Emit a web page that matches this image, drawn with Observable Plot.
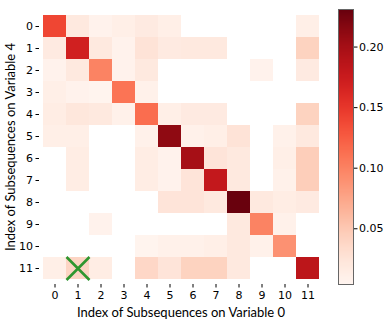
<!DOCTYPE html>
<html><head><meta charset="utf-8">
<script src="https://cdn.jsdelivr.net/npm/d3@7"></script>
<script src="https://cdn.jsdelivr.net/npm/@observablehq/plot@0.6"></script>
<style>
body{margin:0;background:#fff;}
#wrap{position:relative;width:384px;height:321px;overflow:hidden;}
#main{position:absolute;left:0;top:0;}
#cbar{position:absolute;left:330px;top:0;}
g[aria-label="x-axis label"] text, g[aria-label="y-axis label"] text{font-family:Lato,"Open Sans",sans-serif;font-size:13px;}
</style></head><body><div id="wrap"><div id="main"></div><div id="cbar"></div></div>
<script>
const colLabels = [0,1,2,3,4,5,6,7,8,9,10,11];
const rowLabels = [0,1,2,3,4,5,6,7,8,9,10,11];
// one array per row (Variable 4 index); null = empty (white) cell
const row0  = [0.140, 0.020, 0.008, 0.012, 0.018, 0.012, null, null, null, null, null, 0.012];
const row1  = [0.018, 0.170, 0.020, 0.008, 0.026, 0.018, 0.020, 0.020, null, null, null, 0.042];
const row2  = [0.008, 0.020, 0.100, 0.008, 0.020, null, null, null, null, 0.008, null, 0.018];
const row3  = [0.012, 0.008, 0.006, 0.110, 0.010, null, null, null, null, null, null, null];
const row4  = [0.015, 0.022, 0.020, 0.010, 0.115, 0.012, 0.018, 0.018, null, null, null, 0.042];
const row5  = [0.012, 0.012, null, null, 0.010, 0.212, 0.010, 0.012, 0.026, null, 0.010, 0.020];
const row6  = [null, 0.015, null, null, 0.015, 0.008, 0.200, 0.025, 0.020, null, 0.012, 0.046];
const row7  = [null, 0.015, null, null, 0.015, 0.008, 0.025, 0.180, 0.020, null, 0.010, 0.046];
const row8  = [null, null, null, null, null, 0.025, 0.025, 0.020, 0.230, 0.020, 0.015, 0.018];
const row9  = [null, null, 0.008, null, null, null, null, null, 0.020, 0.100, 0.010, null];
const row10 = [null, null, null, null, 0.006, 0.010, 0.010, 0.012, 0.020, 0.010, 0.090, null];
const row11 = [0.012, 0.040, 0.015, null, 0.038, 0.025, 0.042, 0.042, 0.020, null, null, 0.185];
const rows = [row0,row1,row2,row3,row4,row5,row6,row7,row8,row9,row10,row11];
const colorMin = 0.004, colorMax = 0.231;
const cbTicks = [0.05, 0.10, 0.15, 0.20];
const markerCol = [1], markerRow = [11];

const cells = [];
rows.forEach((r, i) => r.forEach((v, j) => { if (v != null) cells.push({row: rowLabels[i], col: colLabels[j], value: v}); }));
const markers = markerCol.map((c, i) => ({col: c, row: markerRow[i]}));

const main = Plot.plot({
  width: 330, height: 321,
  marginLeft: 39, marginRight: 8, marginTop: 9, marginBottom: 37,
  style: {fontFamily: "DejaVu Sans", fontSize: "11px", color: "#000", background: "#fff"},
  x: {type: "band", domain: colLabels, padding: 0, tickSize: 3.5, tickPadding: 3,
      label: "Index of Subsequences on Variable 0", labelAnchor: "center", labelArrow: "none", labelOffset: 32},
  y: {type: "band", domain: rowLabels, padding: 0, tickSize: 3.5, tickPadding: 3,
      label: "Index of Subsequences on Variable 4", labelAnchor: "center", labelArrow: "none", labelOffset: 34},
  color: {type: "linear", scheme: "reds", domain: [colorMin, colorMax], clamp: true},
  marks: [
    Plot.cell(cells, {x: "col", y: "row", fill: "value", inset: 0}),
    Plot.dot(markers, {x: "col", y: "row", symbol: "times", r: 10.5, stroke: "#2f962f", strokeWidth: 2.6})
  ]
});
document.getElementById("main").appendChild(main);

const cbar = Plot.plot({
  width: 54, height: 321,
  marginLeft: 8, marginRight: 31, marginTop: 9, marginBottom: 37,
  style: {fontFamily: "DejaVu Sans", fontSize: "11px", color: "#000", background: "transparent"},
  x: {domain: [0, 1], axis: null},
  y: {domain: [colorMin, colorMax], axis: "right", ticks: cbTicks, tickFormat: ".2f", tickSize: 3.5, tickPadding: 2, label: null},
  color: {type: "linear", scheme: "reds", domain: [colorMin, colorMax]},
  marks: [
    Plot.raster({x1: 0, x2: 1, y1: colorMin, y2: colorMax, width: 1, height: 256, fill: (x, y) => y, imageRendering: "auto"}),
    Plot.frame({stroke: "#666", strokeWidth: 1})
  ]
});
document.getElementById("cbar").appendChild(cbar);
</script>
</body></html>
